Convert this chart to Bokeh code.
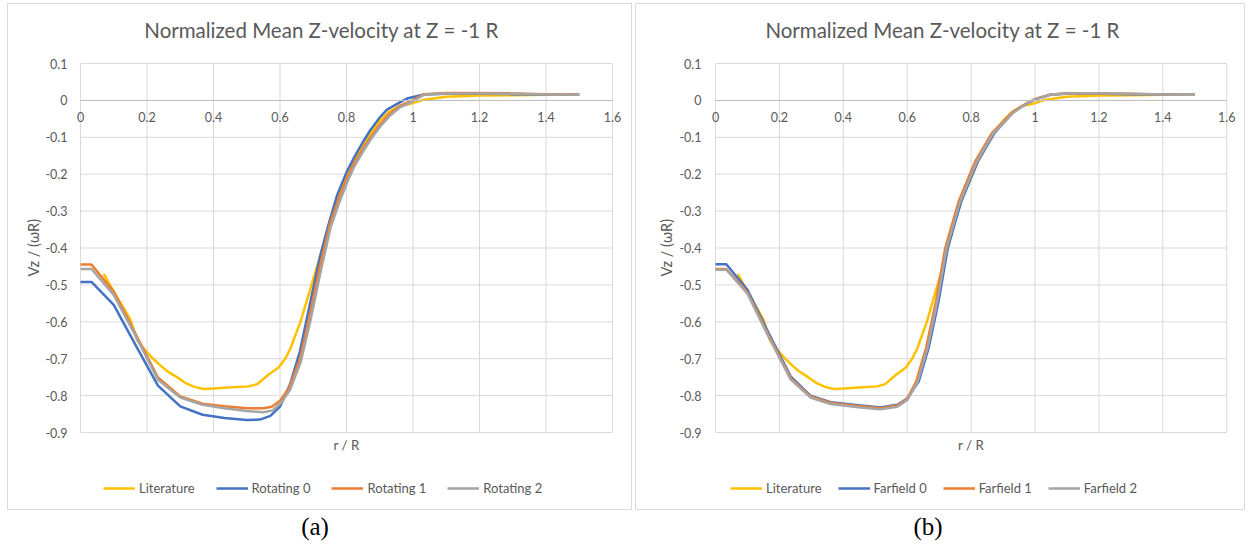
import math
from bokeh.plotting import figure
from bokeh.models import Range1d, FixedTicker, Legend, LegendItem, Label, Div
from bokeh.layouts import row, column
from bokeh.embed import file_html
from bokeh.resources import INLINE

chart_title = "Normalized Mean Z-velocity at Z = -1 R"
x_label = "r / R"
y_label = "Vz / (\u03c9R)"
x_ticks = [0, 0.2, 0.4, 0.6, 0.8, 1.0, 1.2, 1.4, 1.6]
x_tick_labels = ["0", "0.2", "0.4", "0.6", "0.8", "1", "1.2", "1.4", "1.6"]
y_ticks = [0.1, 0, -0.1, -0.2, -0.3, -0.4, -0.5, -0.6, -0.7, -0.8, -0.9]
y_tick_labels = ["0.1", "0", "-0.1", "-0.2", "-0.3", "-0.4", "-0.5", "-0.6", "-0.7", "-0.8", "-0.9"]

# Literature (same in both panels)
lit_x = [0.07, 0.1, 0.13, 0.15, 0.17, 0.186, 0.216, 0.24, 0.261, 0.29, 0.316, 0.345, 0.371, 0.40,
         0.446, 0.506, 0.531, 0.566, 0.596, 0.617, 0.632, 0.662, 0.692, 0.722, 0.752, 0.777, 0.8,
         0.822, 0.85, 0.872, 0.90, 0.93, 0.96, 0.99, 1.033, 1.1, 1.2, 1.3, 1.4, 1.5]
lit_y = [-0.470, -0.518, -0.563, -0.594, -0.650, -0.668, -0.698, -0.718, -0.734, -0.750, -0.766,
         -0.777, -0.782, -0.781, -0.778, -0.775, -0.769, -0.743, -0.724, -0.698, -0.671, -0.599,
         -0.509, -0.418, -0.319, -0.256, -0.210, -0.165, -0.120, -0.0885, -0.055, -0.030, -0.015,
         -0.010, 0.002, 0.010, 0.013, 0.014, 0.015, 0.015]

# Panel (a): rotating
rot0_x = [0, 0.033, 0.1, 0.167, 0.233, 0.3, 0.367, 0.433, 0.5, 0.54, 0.571, 0.6, 0.63, 0.66, 0.69,
          0.72, 0.745, 0.772, 0.8, 0.822, 0.85, 0.872, 0.9, 0.922, 0.955, 0.982, 1.033, 1.1, 1.2,
          1.3, 1.4, 1.5]
rot0_y = [-0.492, -0.492, -0.554, -0.665, -0.773, -0.829, -0.852, -0.861, -0.866, -0.865, -0.855,
          -0.830, -0.770, -0.680, -0.552, -0.425, -0.340, -0.256, -0.195, -0.156, -0.112, -0.080,
          -0.046, -0.025, -0.008, 0.005, 0.016, 0.018, 0.018, 0.017, 0.016, 0.015]
rot1_x = [0, 0.033, 0.1, 0.167, 0.233, 0.3, 0.367, 0.433, 0.5, 0.55, 0.575, 0.6, 0.627, 0.66, 0.69,
          0.72, 0.75, 0.777, 0.8, 0.822, 0.85, 0.872, 0.9, 0.93, 0.96, 0.992, 1.033, 1.1, 1.2, 1.3,
          1.4, 1.5]
rot1_y = [-0.445, -0.445, -0.518, -0.635, -0.751, -0.802, -0.822, -0.829, -0.834, -0.834, -0.830,
          -0.814, -0.780, -0.700, -0.580, -0.450, -0.335, -0.265, -0.215, -0.172, -0.130, -0.100,
          -0.066, -0.036, -0.015, -0.003, 0.017, 0.020, 0.020, 0.019, 0.017, 0.016]
rot2_x = [0, 0.033, 0.1, 0.167, 0.233, 0.3, 0.367, 0.433, 0.5, 0.55, 0.578, 0.603, 0.63, 0.662,
          0.692, 0.722, 0.752, 0.779, 0.802, 0.824, 0.852, 0.874, 0.902, 0.932, 0.962, 0.994, 1.035,
          1.1, 1.2, 1.3, 1.4, 1.5]
rot2_y = [-0.457, -0.457, -0.527, -0.640, -0.757, -0.805, -0.825, -0.834, -0.842, -0.845, -0.840,
          -0.820, -0.785, -0.710, -0.595, -0.465, -0.345, -0.275, -0.222, -0.178, -0.135, -0.104,
          -0.070, -0.040, -0.018, -0.005, 0.016, 0.019, 0.019, 0.018, 0.016, 0.015]

# Panel (b): farfield
ff0_x = [0, 0.034, 0.1, 0.167, 0.235, 0.297, 0.36, 0.454, 0.516, 0.569, 0.6, 0.636, 0.667, 0.698,
         0.727, 0.769, 0.821, 0.873, 0.933, 0.975, 1.0, 1.05, 1.1, 1.2, 1.3, 1.4, 1.5]
ff0_y = [-0.444, -0.444, -0.513, -0.632, -0.748, -0.800, -0.818, -0.827, -0.832, -0.825, -0.808,
         -0.762, -0.671, -0.545, -0.400, -0.274, -0.165, -0.0885, -0.030, -0.008, 0.003, 0.016,
         0.018, 0.018, 0.017, 0.016, 0.015]
ff1_x = [0, 0.034, 0.1, 0.167, 0.235, 0.297, 0.36, 0.454, 0.516, 0.569, 0.6, 0.628, 0.659, 0.69,
         0.719, 0.761, 0.813, 0.865, 0.927, 0.97, 1.0, 1.05, 1.1, 1.2, 1.3, 1.4, 1.5]
ff1_y = [-0.457, -0.457, -0.520, -0.638, -0.752, -0.802, -0.820, -0.829, -0.834, -0.827, -0.809,
         -0.762, -0.671, -0.545, -0.400, -0.274, -0.165, -0.0885, -0.034, -0.010, 0.003, 0.016,
         0.019, 0.019, 0.018, 0.016, 0.015]
ff2_x = [0, 0.034, 0.1, 0.167, 0.235, 0.297, 0.36, 0.454, 0.516, 0.569, 0.6, 0.632, 0.663, 0.694,
         0.723, 0.765, 0.817, 0.869, 0.93, 0.972, 1.0, 1.05, 1.1, 1.2, 1.3, 1.4, 1.5]
ff2_y = [-0.459, -0.459, -0.524, -0.642, -0.756, -0.805, -0.823, -0.832, -0.837, -0.830, -0.812,
         -0.764, -0.673, -0.547, -0.402, -0.276, -0.167, -0.090, -0.035, -0.010, 0.002, 0.016,
         0.019, 0.019, 0.018, 0.016, 0.015]

names_a = ["Literature", "Rotating 0", "Rotating 1", "Rotating 2"]
names_b = ["Literature", "Farfield 0", "Farfield 1", "Farfield 2"]
colors = ["#FFC000", "#4472C4", "#ED7D31", "#A5A5A5"]

FONT = "Lato"
TXT = "#595959"
GRID = "#D9D9D9"
PX_PER_Y = 369.0      # pixels per unit of Vz/(wR)
CANVAS_H = 507
TOP_PX = 59           # canvas top to the 0.1 gridline


def make_panel(width, left_px, px_per_x, series, names, title_x, ylab_dx, leg_x, leg_spacing,
               ytick_standoff):
    x_lo = x_ticks[0] - left_px / px_per_x
    x_hi = x_lo + width / px_per_x
    y_hi = y_ticks[0] + TOP_PX / PX_PER_Y
    y_lo = y_hi - CANVAS_H / PX_PER_Y
    p = figure(width=width, height=CANVAS_H,
               x_range=Range1d(x_lo, x_hi), y_range=Range1d(y_lo, y_hi),
               output_backend="svg", toolbar_location=None,
               min_border_left=0, min_border_right=0, min_border_top=0, min_border_bottom=0,
               background_fill_color="white", border_fill_color="white", outline_line_color=None)
    p.xgrid.grid_line_color = None
    p.ygrid.grid_line_color = None

    # gridlines confined to the plotting rectangle
    n_y, n_x = len(y_ticks), len(x_ticks)
    p.segment(x0=[x_ticks[0]] * n_y, y0=y_ticks, x1=[x_ticks[-1]] * n_y, y1=y_ticks,
              line_color=GRID, line_width=1)
    p.segment(x0=x_ticks, y0=[y_ticks[-1]] * n_x, x1=x_ticks, y1=[y_ticks[0]] * n_x,
              line_color=GRID, line_width=1)

    xa = p.xaxis[0]
    xa.fixed_location = 0
    xa.bounds = (x_ticks[0], x_ticks[-1])
    xa.ticker = FixedTicker(ticks=x_ticks)
    xa.major_label_overrides = dict(zip(x_ticks, x_tick_labels))
    xa.major_tick_line_color = None
    xa.minor_tick_line_color = None
    xa.major_tick_out = 0
    xa.major_tick_in = 0
    xa.axis_line_color = "#BFBFBF"
    xa.axis_line_width = 1
    xa.major_label_standoff = 12
    xa.major_label_text_font = FONT
    xa.major_label_text_font_size = "12.5px"
    xa.major_label_text_color = TXT

    ya = p.yaxis[0]
    ya.fixed_location = x_ticks[0]
    ya.bounds = (y_ticks[-1], y_ticks[0])
    ya.ticker = FixedTicker(ticks=y_ticks)
    ya.major_label_overrides = dict(zip(y_ticks, y_tick_labels))
    ya.major_tick_line_color = None
    ya.minor_tick_line_color = None
    ya.major_tick_out = 0
    ya.major_tick_in = 0
    ya.axis_line_color = None
    ya.major_label_standoff = ytick_standoff
    ya.major_label_text_font = FONT
    ya.major_label_text_font_size = "12.5px"
    ya.major_label_text_color = TXT

    # chart title, axis titles
    p.add_layout(Label(x=title_x, y=y_ticks[0], y_offset=34, text=chart_title,
                       text_align="center", text_baseline="middle", text_font=FONT,
                       text_font_size="20.5px", text_color=TXT))
    p.add_layout(Label(x=(x_ticks[0] + x_ticks[-1]) / 2, y=y_ticks[-1], y_offset=-12,
                       text=x_label, text_align="center", text_baseline="middle",
                       text_font=FONT, text_font_size="13.3px", text_color=TXT))
    p.add_layout(Label(x=x_ticks[0], x_offset=ylab_dx, y=(y_ticks[0] + y_ticks[-1]) / 2,
                       angle=math.pi / 2, text=y_label, text_align="center",
                       text_baseline="middle", text_font=FONT, text_font_size="14.5px",
                       text_color=TXT))

    items = []
    for (xs, ys), name, c in zip(series, names, colors):
        r = p.line(xs, ys, line_color=c, line_width=2.5)
        items.append(LegendItem(label=name, renderers=[r]))
    leg = Legend(items=items, orientation="horizontal", location=(leg_x, 15), padding=0,
                 margin=0, spacing=leg_spacing, glyph_width=32, glyph_height=16, label_height=16,
                 label_standoff=4, label_text_font=FONT, label_text_font_size="13px",
                 label_text_color=TXT, border_line_color=None, background_fill_alpha=0)
    p.add_layout(leg)
    p.styles = {"border": "1px solid #D9D9D9"}
    return p


pa = make_panel(625, 72, 332.5,
                [(lit_x, lit_y), (rot0_x, rot0_y), (rot1_x, rot1_y), (rot2_x, rot2_y)],
                names_a, 0.725, -47, 95, 21, 13)
pb = make_panel(610, 79, 319.5,
                [(lit_x, lit_y), (ff0_x, ff0_y), (ff1_x, ff1_y), (ff2_x, ff2_y)],
                names_b, 0.711, -49, 94, 16, 14)
pa.margin = (3, 0, 0, 7)
pb.margin = (3, 0, 0, 3)

cap_style = {"text-align": "center", "font-family": "'Liberation Serif', serif",
             "font-size": "25px", "line-height": "1", "color": "black", "width": "100%"}
da = Div(text="(a)", width=630, height=30, styles=cap_style, margin=(4, 0, 0, 0))
db = Div(text="(b)", width=596, height=30, styles=cap_style, margin=(4, 0, 0, 0))

layout = column(row(pa, pb), row(da, db))
open("out.html", "w").write(file_html(layout, INLINE))
